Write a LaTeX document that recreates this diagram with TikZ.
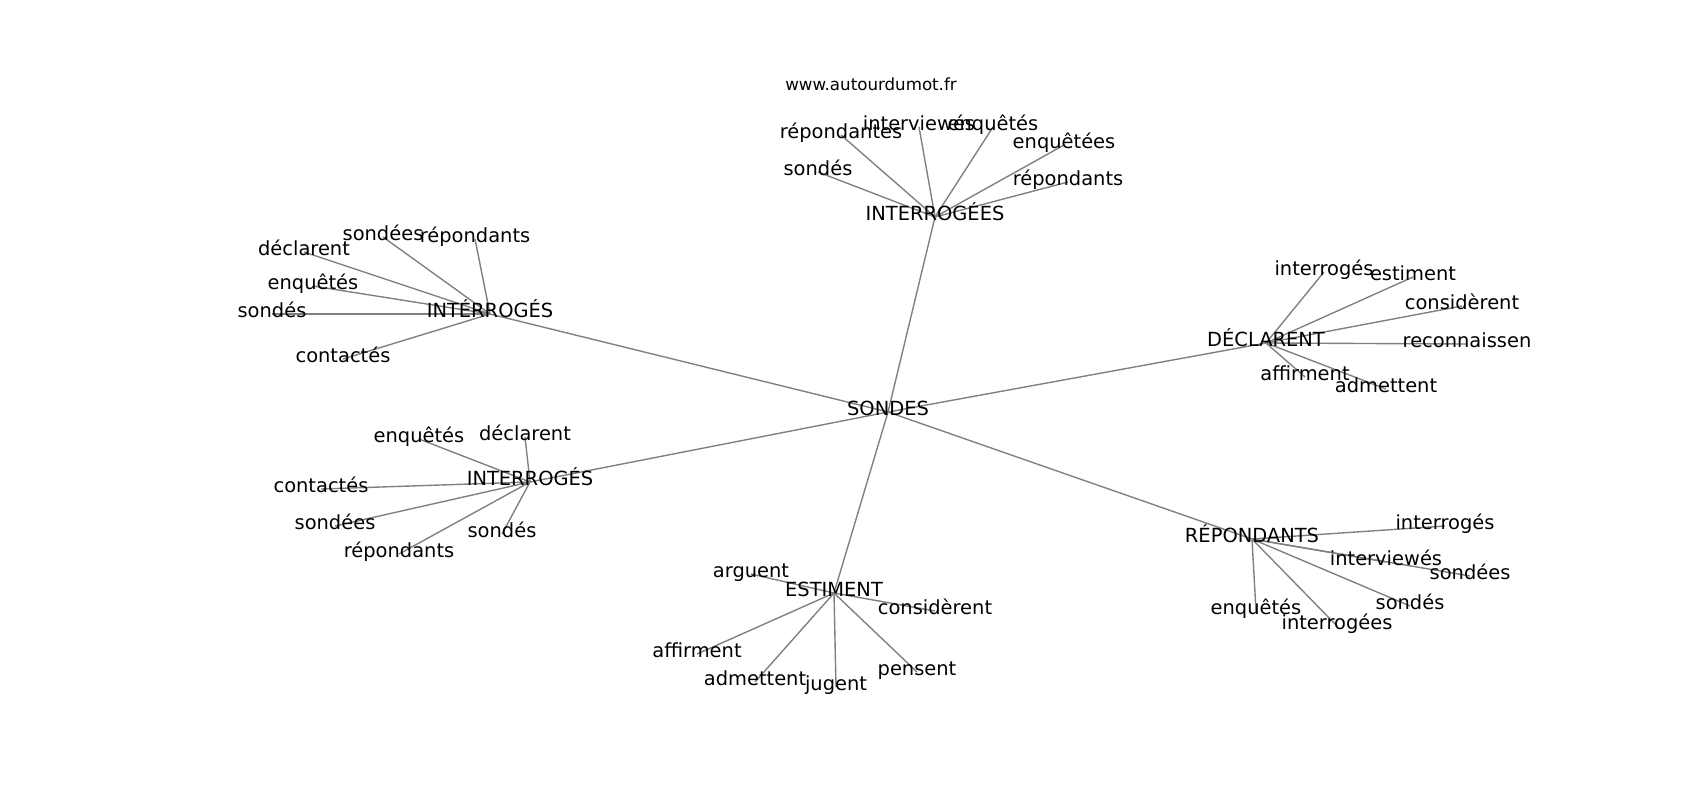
\documentclass[tikz,border=0pt]{standalone}
\usepackage{fontspec}
\setmainfont{DejaVu Sans}
\usetikzlibrary{backgrounds}

\begin{document}
\begin{tikzpicture}[x=0.72pt, y=-0.72pt]
        \tikzstyle{every node}=[font=\fontsize{14}{17}\selectfont, inner sep=0pt, text height=0.76em, text depth=0.24em]
        \tikzstyle{edge}=[draw=gray, line width=1pt]
        \useasboundingbox (0,-4) rectangle (1700,796);

        \node (url) [font=\fontsize{12}{14}\selectfont] at (871,83) {www.autourdumot.fr};

        % hub
        \node (s) at (888,408) {SONDES};

        \node (a) at (935,213) {INTERROGÉES};
        \node (a 1) at (841,131) {répondantes};
        \node (a 2) at (919,123) {interviewés};
        \node (a 3) at (993,123) {enquêtés};
        \node (a 4) at (1064,141) {enquêtées};
        \node (a 5) at (818,168) {sondés};
        \node (a 6) at (1068,178) {répondants};

        \node (b) at (490,310) {INTÉRROGÉS};
        \node (b 1) at (383,233) {sondées};
        \node (b 2) at (475,235) {répondants};
        \node (b 3) at (304,248) {déclarent};
        \node (b 4) at (313,282) {enquêtés};
        \node (b 5) at (272,310) {sondés};
        \node (b 6) at (343,355) {contactés};

        \node (c) at (1266,339) {DÉCLARENT};
        \node (c 1) at (1324,268) {interrogés};
        \node (c 2) at (1413,273) {estiment};
        \node (c 3) at (1462,302) {considèrent};
        \node (c 4) at (1467,340) {reconnaissen};
        \node (c 5) at (1305,373) {affirment};
        \node (c 6) at (1386,385) {admettent};

        \node (d) at (530,478) {INTERROGÉS};
        \node (d 1) at (419,435) {enquêtés};
        \node (d 2) at (525,433) {déclarent};
        \node (d 3) at (321,485) {contactés};
        \node (d 4) at (335,522) {sondées};
        \node (d 5) at (502,530) {sondés};
        \node (d 6) at (399,550) {répondants};

        \node (e) at (1252,535) {RÉPONDANTS};
        \node (e 1) at (1445,522) {interrogés};
        \node (e 2) at (1386,558) {interviewés};
        \node (e 3) at (1470,572) {sondées};
        \node (e 4) at (1410,602) {sondés};
        \node (e 5) at (1256,607) {enquêtés};
        \node (e 6) at (1337,622) {interrogées};

        \node (f) at (834,589) {ESTIMENT};
        \node (f 1) at (751,570) {arguent};
        \node (f 2) at (935,607) {considèrent};
        \node (f 3) at (697,650) {affirment};
        \node (f 4) at (755,678) {admettent};
        \node (f 5) at (836,683) {jugent};
        \node (f 6) at (917,668) {pensent};

        \begin{pgfonlayer}{background}
            \foreach \h in {a,b,c,d,e,f} {
                \draw[edge] (s.center) -- (\h.center);
                \foreach \i in {1,...,6}
                    \draw[edge] (\h.center) -- (\h\space\i.center);
            }
        \end{pgfonlayer}

    \end{tikzpicture}
\end{document}
